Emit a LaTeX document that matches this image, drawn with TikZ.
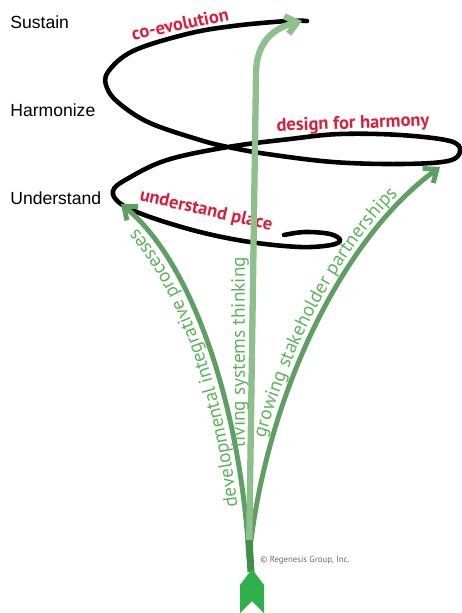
\documentclass[tikz,border=0pt]{standalone}
\usepackage{fontspec}
\usepackage{tikz}
\usetikzlibrary{arrows.meta,decorations.text}
\newfontfamily\levelfont{Liberation Sans}
\newfontfamily\stagefont{PT Sans}
\definecolor{regRed}{HTML}{D8203C}
\definecolor{regGreen}{HTML}{5F9F63}
\definecolor{regGreenLight}{HTML}{8DC08D}
\definecolor{regGreenText}{HTML}{5DB35D}
\definecolor{regGreenTail}{HTML}{2FB04B}
\definecolor{regGreenDark}{HTML}{3E8F48}
\definecolor{regGray}{HTML}{6A6A6A}
\tikzset{
  level label/.style={font=\levelfont\fontsize{10}{12}\selectfont,
    anchor=west, inner sep=0pt},
  stage label/.style={font=\stagefont\bfseries\fontsize{10.5}{12}\selectfont,
    text=regRed, inner sep=0pt},
  path label/.style={font=\stagefont\fontsize{11}{13}\selectfont,
    text=regGreenText, inner sep=0pt},
  spiral/.style={line width=2.6pt, line cap=round, draw=black},
  side arrow/.style={line width=2.8pt, draw=regGreen,
    -{Straight Barb[length=2.2mm, width=3.6mm]}},
  center arrow/.style={side arrow, line width=3.6pt, draw=regGreenLight},
  stem/.style={line width=4pt, draw=regGreenDark},
  credit/.style={font=\stagefont\fontsize{5}{6}\selectfont, text=regGray,
    anchor=west, inner sep=0pt}
}
\begin{document}
\begin{tikzpicture}[x=0.02cm, y=-0.02cm]
  \useasboundingbox (0,0) rectangle (462,613);
  % levels
  \node[level label] (sustain) at (10,22) {Sustain};
  \node[level label] (harmonize) at (10,110) {Harmonize};
  \node[level label] (understand) at (10,198) {Understand};
  % spiral
  \draw[spiral] plot[smooth, tension=0.6] coordinates {
    (307,21) (287,21) (233,26) (187,34) (133,51) (108,72) (107,88)
    (120,104) (150,123) (200,140) (228,147) (267,154) (333,162)
    (400,164) (448,161) (460,151) (450,141) (400,135) (340,134)
    (290,139) (228,147) (167,160) (127,179) (113,191) (121,204)
    (150,217) (200,232) (250,242) (300,247) (331,245) (340,240)
    (330,234) (305,232) (284,235)};
  % stages
  \node[stage label, rotate=12] (coevo) at (180,24) {co-evolution};
  \node[stage label, rotate=2] (design) at (353,124) {design for harmony};
  \node[stage label, rotate=-13] (place) at (206,211) {understand place};
  % arrows
  \coordinate (root) at (249,558);
  \coordinate (ltip) at (121,204);
  \coordinate (ctip) at (302,21);
  \coordinate (rtip) at (440,167);
  \coordinate (tail) at (251,572);
  \draw[side arrow] (root) .. controls (240,400) and (190,260) .. (ltip);
  \draw[side arrow] (root) .. controls (265,400) and (340,240) .. (rtip);
  \draw[center arrow] (root) -- (256,75)
    .. controls (256,40) and (275,28) .. (ctip);
  \path[decorate, decoration={text along path, raise=1.4mm,
    text align={left indent=1.05cm},
    text={|\stagefont\fontsize{11}{13}\selectfont\color{regGreenText}|developmental integrative processes}}]
    (root) .. controls (240,400) and (190,260) .. (ltip);
  \path[decorate, decoration={text along path, raise=1.4mm,
    text align={left indent=2.4cm},
    text={|\stagefont\fontsize{11}{13}\selectfont\color{regGreenText}|growing stakeholder partnerships}}]
    (root) .. controls (265,400) and (340,240) .. (rtip);
  \node[path label, rotate=90] (living) at (240,352) {living systems thinking};
  % tail
  \draw[stem] (249,540) -- (tail);
  \fill[regGreenTail] (252,569) -- (264,585) -- (264,613) -- (252,601)
    -- (240,613) -- (240,585) -- cycle;
  \node[credit] (regenesis) at (260,560) {\textcopyright{} Regenesis Group, Inc.};
\end{tikzpicture}
\end{document}
